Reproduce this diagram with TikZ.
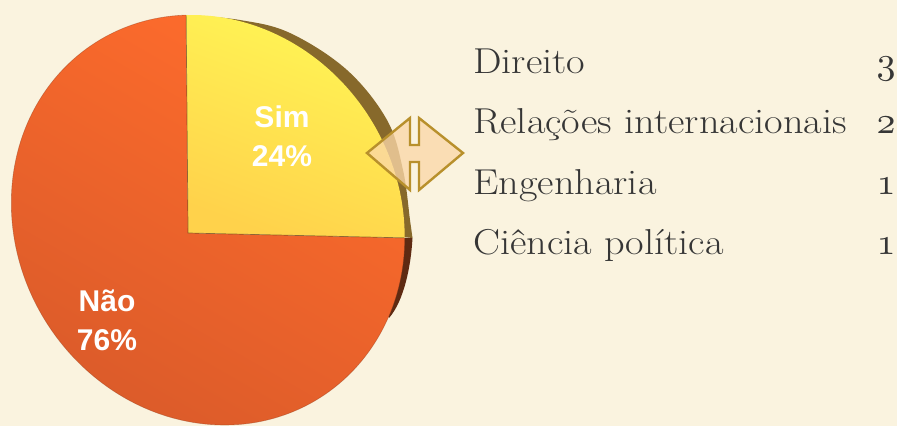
\documentclass[tikz,border=0pt]{standalone}
\usepackage{fontspec}
\usepackage{graphicx}
\newfontfamily\labelfont{Liberation Sans}
\newcommand\osnum[1]{\scalebox{3.8}{\fontsize{10}{12}\usefont{OML}{cmm}{m}{it}#1}}
\newcommand\widetext[1]{\scalebox{1.12}[1]{#1}}
\definecolor{bgcol}{HTML}{FAF3DF}
\definecolor{rimtop}{HTML}{87692B}
\definecolor{rimbot}{HTML}{5E2A12}
\definecolor{orgtop}{HTML}{FF6C2C}
\definecolor{orgbot}{HTML}{DB5B2A}
\definecolor{yeltop}{HTML}{FFF655}
\definecolor{yelbot}{HTML}{FFD24B}
\definecolor{txtcol}{HTML}{363636}
\definecolor{arrfill}{HTML}{FAD7A8}
\definecolor{arrline}{HTML}{B8902C}
\tikzset{
  pielabel/.style={font=\labelfont\bfseries\fontsize{30}{36}\selectfont, text=white, anchor=base, inner sep=0pt},
  item/.style={font=\fontsize{36}{42}\selectfont, text=txtcol, anchor=base west, inner sep=0pt},
  count/.style={text=txtcol, anchor=base, inner sep=0pt},
  wedgeedge/.style={draw=black!60!brown, line width=0.7pt, draw opacity=0.6},
  pieedge/.style={draw=orgbot!70!black, line width=0.6pt, draw opacity=0.45},
}
\begin{document}
\begin{tikzpicture}[x=1pt,y=1pt]
\fill[bgcol] (0,0) rectangle (897,426);
\useasboundingbox (0,0) rectangle (897,426);

% side (rim) of the pie
\fill[rimtop] plot[smooth, tension=0.6] coordinates
  {(187,411) (240,406) (290,393) (347,356) (387,306) (403,256) (410,206) (412.5,188)}
  -- (300,200) -- cycle;
\fill[rimbot] (404.7,188) -- (412.5,188) .. controls (411,160) and (404,125) .. (389,108)
  -- (370,150) -- cycle;

% faces
\begin{scope}[shift={(208,206)}, xslant=-0.08]
  \coordinate (apex) at (-21,-13);
  \coordinate (topp) at (91.6:196pt and 205pt);
  \coordinate (rightp) at (-5:196pt and 205pt);
  \shade[top color=orgtop, bottom color=orgbot, shading angle=-30]
    (apex) -- (rightp) arc[start angle=-5, end angle=-268.4, x radius=196pt, y radius=205pt] -- cycle;
  \draw[pieedge] (rightp) arc[start angle=-5, end angle=-268.4, x radius=196pt, y radius=205pt];
  \shade[top color=yeltop, bottom color=yelbot, shading angle=-20]
    (apex) -- (topp) arc[start angle=91.6, end angle=-5, x radius=196pt, y radius=205pt] -- cycle;
  \draw[wedgeedge] (topp) -- (apex) -- (rightp);
\end{scope}

% labels on the pie
\node[pielabel] (sim) at (282,298) {Sim};
\node[pielabel] (simpct) at (282,259) {24\%};
\node[pielabel] (nao) at (107,114) {Não};
\node[pielabel] (naopct) at (107,75) {76\%};

% double arrow
\draw[fill=arrfill, fill opacity=0.78, draw=arrline, line width=2.4pt, line join=miter]
  (367,273) -- (410,308) -- (410,281) -- (419,281) -- (419,308) -- (463,273)
  -- (419,236) -- (419,264) -- (410,264) -- (410,236) -- cycle;

% list
\node[item] (i1) at (473,352) {\widetext{Direito}};
\node[item] (i2) at (473,292) {\widetext{Relações internacionais}};
\node[item] (i3) at (473,231) {\widetext{Engenharia}};
\node[item] (i4) at (473,171) {\widetext{Ciência política}};
\node[count] (n1) at (886,352) {\osnum{3}};
\node[count] (n2) at (886,292) {\osnum{2}};
\node[count] (n3) at (886,231) {\osnum{1}};
\node[count] (n4) at (886,171) {\osnum{1}};
\end{tikzpicture}
\end{document}
